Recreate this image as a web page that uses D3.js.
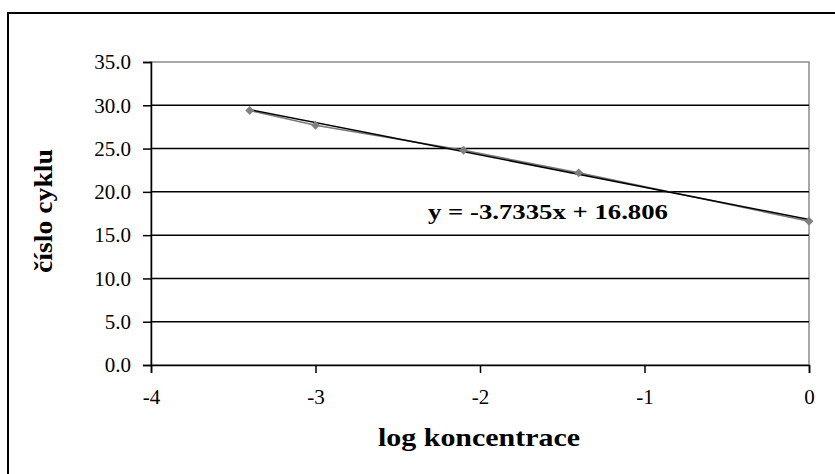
<!DOCTYPE html>
<html>
<head>
<meta charset="utf-8">
<script src="https://cdn.jsdelivr.net/npm/d3@7"></script>
<style>
  body { margin: 0; background: #fff; }
  svg { display: block; }
</style>
</head>
<body>
<svg id="chart"></svg>
<script>
// data
const logConc = [-3.4, -3, -2.1, -1.4, 0];
const cycle = [29.4, 27.7, 24.8, 22.2, 16.6];
const xTicks = [-4, -3, -2, -1, 0];
const yTicks = [0, 5, 10, 15, 20, 25, 30, 35];
const slope = -3.7335;
const intercept = 16.806;
const equationText = "y = -3.7335x + 16.806";

const width = 835;
const height = 474;
const margin = { top: 62, right: 26, bottom: 109, left: 151 };

const svg = d3.select("#chart").attr("width", width).attr("height", height);

// outer chart border (runs off the right and bottom)
svg.append("rect")
  .attr("x", 8).attr("y", 13)
  .attr("width", 840).attr("height", 480)
  .attr("fill", "none").attr("stroke", "#000").attr("stroke-width", 2);

const x = d3.scaleLinear().domain([-4, 0]).range([margin.left, width - margin.right]);
const y = d3.scaleLinear().domain([0, 35]).range([height - margin.bottom, margin.top]);

// plot area border
svg.append("rect")
  .attr("x", x(-4)).attr("y", y(35))
  .attr("width", x(0) - x(-4)).attr("height", y(0) - y(35))
  .attr("fill", "none").attr("stroke", "#8a8a8a").attr("stroke-width", 1.5);

// gridlines
svg.append("g")
  .selectAll("line")
  .data(yTicks.filter(d => d > 0 && d < 35))
  .join("line")
  .attr("x1", x(-4)).attr("x2", x(0))
  .attr("y1", d => y(d)).attr("y2", d => y(d))
  .attr("stroke", "#000").attr("stroke-width", 1.5);

const font = "'Liberation Serif', 'Times New Roman', serif";

// axes
const yAxis = svg.append("g")
  .attr("transform", `translate(${x(-4)},0)`)
  .call(d3.axisLeft(y).tickValues(yTicks).tickFormat(d3.format(".1f")).tickSize(8).tickPadding(12));
const xAxis = svg.append("g")
  .attr("transform", `translate(0,${y(0)})`)
  .call(d3.axisBottom(x).tickValues(xTicks).tickFormat(d => d < 0 ? "-" + Math.abs(d) : d).tickSize(8).tickPadding(16));

[xAxis, yAxis].forEach(g => {
  g.select(".domain").attr("stroke", "#000").attr("stroke-width", 1.5);
  g.selectAll(".tick line").attr("stroke", "#000").attr("stroke-width", 1.5);
  g.selectAll("text")
    .attr("fill", "#000")
    .attr("font-family", font)
    .attr("font-size", 21);
});

// data line + markers
const line = d3.line().x((d, i) => x(logConc[i])).y(d => y(d));
svg.append("path")
  .datum(cycle)
  .attr("d", line)
  .attr("fill", "none")
  .attr("stroke", "#777")
  .attr("stroke-width", 1.5);

// linear trendline from the displayed equation
const trendX = d3.extent(logConc);
svg.append("line")
  .attr("x1", x(trendX[0])).attr("y1", y(slope * trendX[0] + intercept))
  .attr("x2", x(trendX[1])).attr("y2", y(slope * trendX[1] + intercept))
  .attr("stroke", "#000").attr("stroke-width", 1.5);

svg.append("g")
  .selectAll("path")
  .data(cycle)
  .join("path")
  .attr("transform", (d, i) => `translate(${x(logConc[i])},${y(d)})`)
  .attr("d", d3.symbol(d3.symbolDiamond2, 50))
  .attr("fill", "#808080");

// equation label
svg.append("text")
  .attr("x", 428).attr("y", 219)
  .attr("font-family", font)
  .attr("font-weight", "bold")
  .attr("font-size", 21)
  .attr("textLength", 240)
  .attr("lengthAdjust", "spacingAndGlyphs")
  .text(equationText);

// axis titles
svg.append("text")
  .attr("x", 378)
  .attr("y", 446)
  .attr("font-family", font)
  .attr("font-weight", "bold")
  .attr("font-size", 26)
  .attr("textLength", 202)
  .attr("lengthAdjust", "spacingAndGlyphs")
  .text("log koncentrace");

svg.append("text")
  .attr("transform", `translate(52,273) rotate(-90)`)
  .attr("font-family", font)
  .attr("font-weight", "bold")
  .attr("font-size", 26)
  .attr("textLength", 124)
  .attr("lengthAdjust", "spacingAndGlyphs")
  .text("číslo cyklu");
</script>
</body>
</html>
